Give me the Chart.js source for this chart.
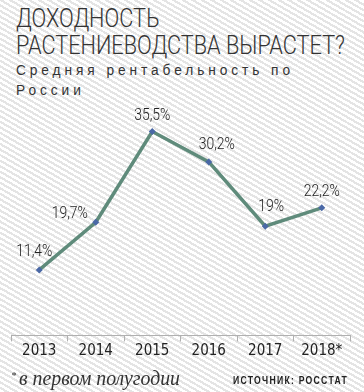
<!DOCTYPE html>
<html>
<head>
<meta charset="utf-8">
<script src="https://cdn.jsdelivr.net/npm/chart.js@4"></script>
<style>
  html, body { margin: 0; padding: 0; }
  body {
    width: 364px; height: 392px; position: relative; overflow: hidden;
    background: #fff repeating-linear-gradient(30deg, #ffffff 0px, #ffffff 2.6px, #e4e4e4 2.6px, #e4e4e4 4.8px);
  }
  #c { position: absolute; left: 0; top: 0; }
  .t { position: absolute; white-space: nowrap; color: #333; transform-origin: 0 0; }
  #title { left: 16px; top: 5px; font: 300 26px/27px Roboto, "Liberation Sans", sans-serif; color: #333; }
  #sub { left: 16px; top: 60px; font: 14px/20px "Liberation Sans", Roboto, sans-serif; letter-spacing: 4px; color: #333; }
  #note { left: 11px; top: 365px; font: italic 21px/20px "Liberation Serif", "DejaVu Serif", serif; color: #333; }
  #note sup { font-size: 11px; vertical-align: 6px; margin-right: 3px; }
  #src { left: 233px; top: 374.5px; font: bold 11px/11px "Liberation Sans", sans-serif; letter-spacing: 1.6px; color: #222; }
</style>
</head>
<body>
<div id="title" class="t">ДОХОДНОСТЬ<br>РАСТЕНИЕВОДСТВА ВЫРАСТЕТ?</div>
<div id="sub" class="t">Средняя рентабельность по<br>России</div>
<canvas id="c" width="364" height="392"></canvas>
<div id="note" class="t"><sup>*</sup>в первом полугодии</div>
<div id="src" class="t">ИСТОЧНИК: РОССТАТ</div>
<script>
const years = ["2013", "2014", "2015", "2016", "2017", "2018*"];
const profitability = [11.4, 19.7, 35.5, 30.2, 19, 22.2];
const valueLabels = ["11,4%", "19,7%", "35,5%", "30,2%", "19%", "22,2%"];

// condense HTML text blocks horizontally to the reference widths
function fitWidth(id, target) {
  const el = document.getElementById(id);
  const w = el.getBoundingClientRect().width;
  el.style.transform = "scaleX(" + (target / w) + ")";
}
fitWidth("title", 329);
fitWidth("sub", 278);
fitWidth("note", 169);
fitWidth("src", 115);

const labelPlugin = {
  id: "valueLabels",
  afterDatasetsDraw(chart, args, opts) {
    const ctx = chart.ctx;
    const meta = chart.getDatasetMeta(0);
    ctx.save();
    ctx.font = opts.font;
    ctx.fillStyle = opts.color;
    ctx.textAlign = "center";
    ctx.textBaseline = "middle";
    meta.data.forEach((pt, i) => {
      const off = opts.offsets[i] || [0, -16];
      ctx.save();
      ctx.translate(pt.x + off[0], pt.y + off[1]);
      ctx.scale(opts.squeeze, 1);
      ctx.fillText(valueLabels[i], 0, 0);
      ctx.restore();
    });
    ctx.restore();
  }
};

new Chart(document.getElementById("c"), {
  type: "line",
  data: {
    labels: years,
    datasets: [{
      data: profitability,
      borderColor: "#5f8b7b",
      borderWidth: 3.5,
      tension: 0,
      pointStyle: "rectRot",
      pointRadius: 3.5,
      pointBackgroundColor: "#4a68a6",
      pointBorderColor: "#4a68a6",
      pointBorderWidth: 0,
      clip: false
    }]
  },
  options: {
    responsive: false,
    animation: false,
    devicePixelRatio: 1,
    layout: { padding: { top: 105.6, left: 11, right: 14, bottom: 30.6 } },
    plugins: {
      legend: { display: false },
      tooltip: { enabled: false },
      valueLabels: {
        font: '300 17px Roboto, "Liberation Sans", sans-serif',
        color: "#222",
        squeeze: 0.82,
        offsets: [[-5, -18], [-26, -8], [0, -16], [8, -17], [6, -19], [0, -16]]
      }
    },
    scales: {
      y: { display: false, min: 0, max: 40 },
      x: {
        offset: true,
        grid: { offset: true, drawOnChartArea: false, drawTicks: true, tickLength: 6, color: "#b0b0b0", lineWidth: 1 },
        border: { display: true, color: "#b0b0b0", width: 1 },
        ticks: {
          padding: 1,
          color: "#222",
          font: { family: '"DejaVu Sans Condensed", "Liberation Sans", sans-serif', size: 15 },
          maxRotation: 0, autoSkip: false
        }
      }
    }
  },
  plugins: [labelPlugin]
});
</script>
</body>
</html>
